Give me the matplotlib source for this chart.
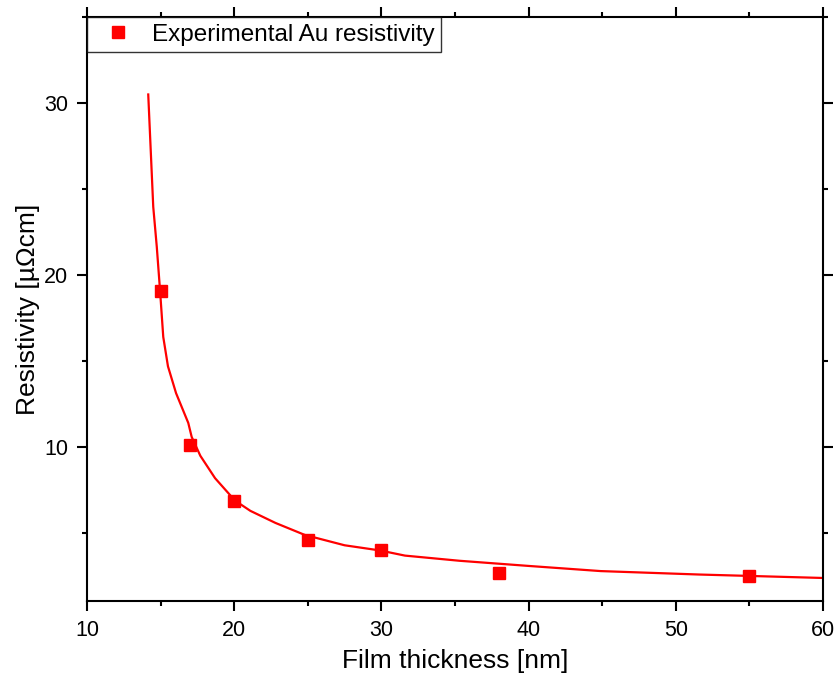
import numpy as np
import matplotlib.pyplot as plt
from matplotlib.ticker import MultipleLocator

plt.rcParams['font.family'] = ['Liberation Sans', 'DejaVu Sans']

# Experimental points
thickness = [15, 17, 20, 25, 30, 38, 55]
resistivity = [19.1, 10.1, 6.9, 4.6, 4.0, 2.7, 2.5]

# Fitted curve
fit_x = [14.16, 14.5, 14.74, 14.96, 15.18, 15.5, 16.05, 16.88, 17.11, 17.7, 18.7,
         20.05, 21.1, 22.8, 24.8, 27.5, 29.9, 31.6, 35.3, 40.0, 44.9, 51.6, 60.0]
fit_y = [30.5, 23.97, 21.65, 19.13, 16.41, 14.7, 13.14, 11.41, 10.6, 9.5, 8.2,
         6.9, 6.3, 5.6, 4.9, 4.3, 4.0, 3.7, 3.4, 3.1, 2.8, 2.6, 2.4]

fig = plt.figure(figsize=(8.35, 6.84), dpi=100)
ax = fig.add_axes([0.1042, 0.1213, 0.8814, 0.8538])

ax.plot(fit_x, fit_y, color="red", linewidth=1.6)
ax.plot(thickness, resistivity, linestyle="none", marker="s", markersize=8.5,
        color="red", label="Experimental Au resistivity")

ax.set_xlim(10, 60)
ax.set_ylim(1.06, 35)
ax.xaxis.set_major_locator(MultipleLocator(10))
ax.xaxis.set_minor_locator(MultipleLocator(5))
ax.yaxis.set_major_locator(MultipleLocator(10))
ax.yaxis.set_minor_locator(MultipleLocator(5))
ax.tick_params(which="both", direction="out", top=True, right=True,
               labeltop=False, labelright=False, width=1.5, labelsize=15.5)
ax.tick_params(which="major", length=7.2, pad=6.5)
ax.tick_params(which="minor", length=3.5)
for s in ax.spines.values():
    s.set_linewidth(1.5)

ax.set_xlabel("Film thickness [nm]", fontsize=19, labelpad=5.5)
ax.set_ylabel("Resistivity [µΩcm]", fontsize=19, labelpad=3)

leg = ax.legend(loc="upper left", fontsize=17.5, frameon=True, fancybox=False,
                borderaxespad=0, handletextpad=0.4, borderpad=0.27,
                handlelength=2.0, markerscale=1.0)
leg.get_frame().set_edgecolor("black")
leg.get_frame().set_linewidth(1.0)

fig.savefig("out.png", dpi=100)
